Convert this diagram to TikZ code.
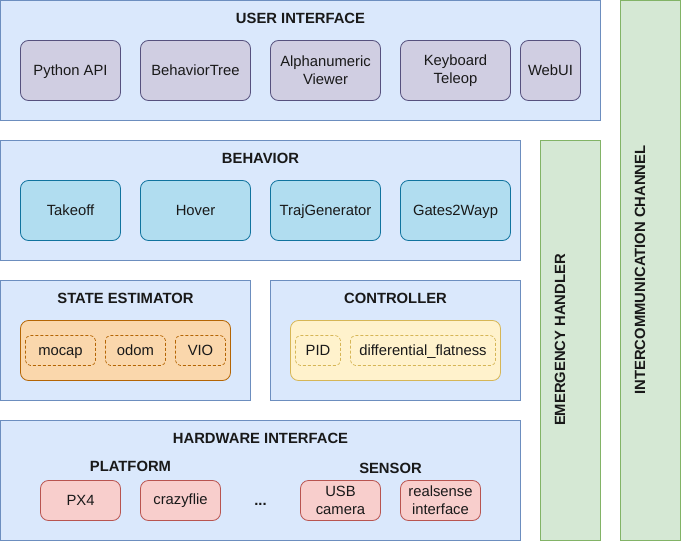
\documentclass[tikz,border=0pt]{standalone}
\usepackage{fontspec}
\setmainfont{Liberation Sans}
\definecolor{bluefill}{HTML}{DAE8FC}
\definecolor{bluedraw}{HTML}{6C8EBF}
\definecolor{greenfill}{HTML}{D5E8D4}
\definecolor{greendraw}{HTML}{82B366}
\definecolor{purpfill}{HTML}{D0CEE2}
\definecolor{purpdraw}{HTML}{56517E}
\definecolor{cyanfill}{HTML}{B1DDF0}
\definecolor{cyandraw}{HTML}{10739E}
\definecolor{orangefill}{HTML}{FAD7AC}
\definecolor{orangedraw}{HTML}{B46504}
\definecolor{yellowfill}{HTML}{FFF2CC}
\definecolor{yellowdraw}{HTML}{D6B656}
\definecolor{redfill}{HTML}{F8CECC}
\definecolor{reddraw}{HTML}{B85450}
\tikzset{
  every node/.style={font=\fontsize{14.8}{18}\selectfont, inner sep=0pt, outer sep=0pt},
  layer/.style={draw=bluedraw, fill=bluefill, line width=0.9pt},
  side/.style={draw=greendraw, fill=greenfill, line width=0.9pt},
  title/.style={font=\fontsize{14.8}{18}\selectfont\bfseries, text=black!90, anchor=base},
  comp/.style={rounded corners=8pt, line width=0.8pt},
  uibox/.style={comp, draw=purpdraw, fill=purpfill},
  bhbox/.style={comp, draw=cyandraw, fill=cyanfill},
  hwbox/.style={comp, draw=reddraw, fill=redfill},
  inner/.style={rounded corners=5pt, dashed, line width=0.7pt, dash pattern=on 3pt off 2pt},
  lbl/.style={align=center, text=black!90},
  one/.style={text=black!90, anchor=base},
  vert/.style={font=\fontsize{14.8}{18}\selectfont\bfseries, text=black!90, rotate=90},
}
\begin{document}
\begin{tikzpicture}[x=1pt,y=-1pt]
\useasboundingbox (0,0) rectangle (681,541);
% side channels
\draw[side] (620.5,0.5) rectangle (680.5,540.5);
\node[vert] (icc) at (640,270) {INTERCOMMUNICATION CHANNEL};
\draw[side] (540.5,140.5) rectangle (600.5,540.5);
\node[vert] (emh) at (560,340) {EMERGENCY HANDLER};
% user interface
\draw[layer] (0.5,0.5) rectangle (600.5,120.5);
\node[title] (uit) at (300.5,23.5) {USER INTERFACE};
\draw[uibox] (20.5,40.5) rectangle (120.5,100.5);
\node[one] (py) at (70.5,75.5) {Python API};
\draw[uibox] (140.5,40.5) rectangle (250.5,100.5);
\node[one] (bt) at (195.5,75.5) {BehaviorTree};
\draw[uibox] (270.5,40.5) rectangle (380.5,100.5);
\node[lbl] (av) at (325.5,70.5) {Alphanumeric\\Viewer};
\draw[uibox] (400.5,40.5) rectangle (510.5,100.5);
\node[lbl] (kt) at (455.5,70.5) {Keyboard\\Teleop};
\draw[uibox] (520.5,40.5) rectangle (580.5,100.5);
\node[one] (wu) at (550.5,75.5) {WebUI};
% behavior
\draw[layer] (0.5,140.5) rectangle (520.5,260.5);
\node[title] (bht) at (260.5,163.5) {BEHAVIOR};
\draw[bhbox] (20.5,180.5) rectangle (120.5,240.5);
\node[one] (to) at (70.5,215.5) {Takeoff};
\draw[bhbox] (140.5,180.5) rectangle (250.5,240.5);
\node[one] (hv) at (195.5,215.5) {Hover};
\draw[bhbox] (270.5,180.5) rectangle (380.5,240.5);
\node[one] (tg) at (325.5,215.5) {TrajGenerator};
\draw[bhbox] (400.5,180.5) rectangle (510.5,240.5);
\node[one] (gw) at (455.5,215.5) {Gates2Wayp};
% state estimator
\draw[layer] (0.5,280.5) rectangle (250.5,400.5);
\node[title] (set) at (125.5,303.5) {STATE ESTIMATOR};
\draw[comp, draw=orangedraw, fill=orangefill] (20.5,320.5) rectangle (230.5,380.5);
\draw[inner, draw=orangedraw] (25.5,335.5) rectangle (95.5,365.5);
\node[one] (mc) at (60.5,355.5) {mocap};
\draw[inner, draw=orangedraw] (105.5,335.5) rectangle (165.5,365.5);
\node[one] (od) at (135.5,355.5) {odom};
\draw[inner, draw=orangedraw] (175.5,335.5) rectangle (225.5,365.5);
\node[one] (vio) at (200.5,355.5) {VIO};
% controller
\draw[layer] (270.5,280.5) rectangle (520.5,400.5);
\node[title] (ctt) at (395.5,303.5) {CONTROLLER};
\draw[comp, draw=yellowdraw, fill=yellowfill] (290.5,320.5) rectangle (500.5,380.5);
\draw[inner, draw=yellowdraw] (295.5,335.5) rectangle (340.5,365.5);
\node[one] (pid) at (318,355.5) {PID};
\draw[inner, draw=yellowdraw] (350.5,335.5) rectangle (495.5,365.5);
\node[one] (df) at (423,355.5) {differential\_flatness};
% hardware interface
\draw[layer] (0.5,420.5) rectangle (520.5,540.5);
\node[title] (hwt) at (260.5,443.5) {HARDWARE INTERFACE};
\node[title] (plt) at (130.5,471.5) {PLATFORM};
\node[title] (sst) at (390.5,473.5) {SENSOR};
\draw[hwbox] (40.5,480.5) rectangle (120.5,520.5);
\node[one] (px4) at (80.5,505.5) {PX4};
\draw[hwbox] (140.5,480.5) rectangle (220.5,520.5);
\node[one] (cf) at (180.5,504.5) {crazyflie};
\node[title] (dots) at (260.5,505.5) {...};
\draw[hwbox] (300.5,480.5) rectangle (380.5,520.5);
\node[lbl] (usb) at (340.5,500.5) {USB\\camera};
\draw[hwbox] (400.5,480.5) rectangle (480.5,520.5);
\node[lbl] (rs) at (440.5,500.5) {realsense\\interface};
\end{tikzpicture}
\end{document}
